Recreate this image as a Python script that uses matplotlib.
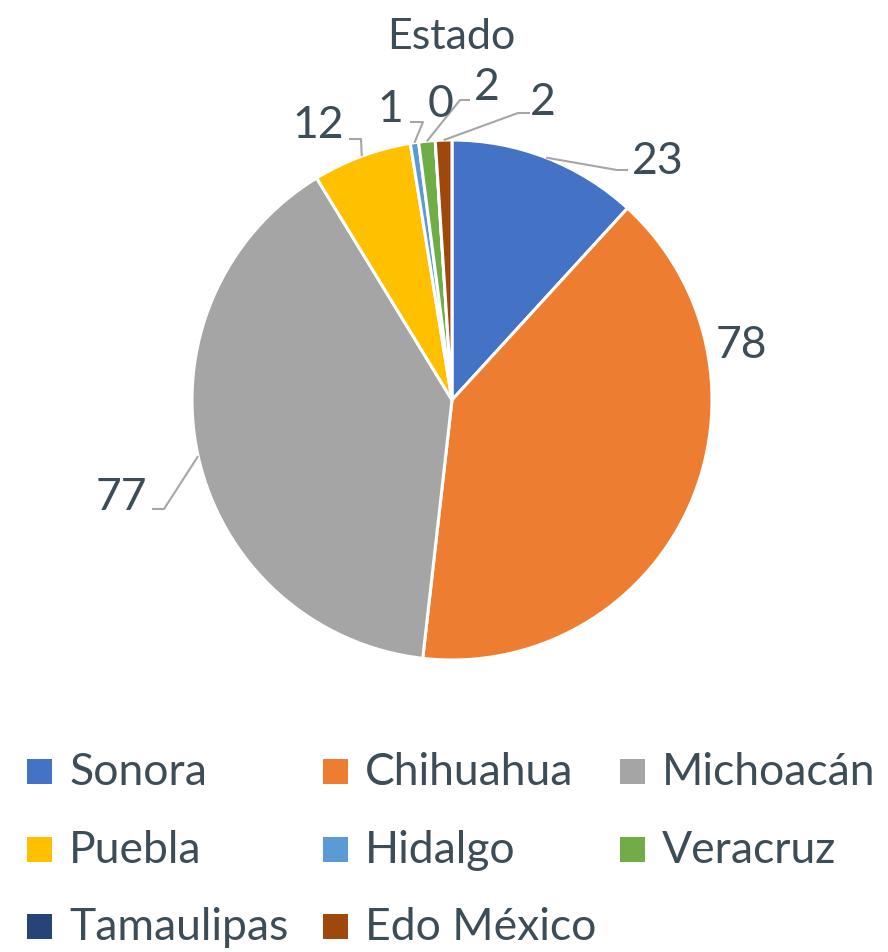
import numpy as np
import matplotlib.pyplot as plt
from matplotlib.patches import Rectangle

# data
estados = ['Sonora', 'Chihuahua', 'Michoacán', 'Puebla', 'Hidalgo',
           'Veracruz', 'Tamaulipas', 'Edo México']
valores = [23, 78, 77, 12, 1, 2, 0, 2]
colores = ['#4472C4', '#ED7D31', '#A5A5A5', '#FFC000', '#5B9BD5',
           '#70AD47', '#264478', '#9E480E']

W, H = 888, 952
TXT = '#3D4D58'
LINE = '#A6A6A6'
plt.rcParams['font.family'] = ['Lato', 'DejaVu Sans']

fig = plt.figure(figsize=(W / 100, H / 100), dpi=100)
ax = fig.add_axes([0, 0, 1, 1])


def Y(y):
    # pixel row (top-down) -> data y
    return H - y


cx, cy, R = 452, 400, 260
wedges, _ = ax.pie(valores, colors=colores, startangle=90, counterclock=False,
                   center=(cx, Y(cy)), radius=R, frame=True,
                   wedgeprops=dict(edgecolor='white', linewidth=2.2))
ax.set_xlim(0, W)
ax.set_ylim(0, H)
ax.set_aspect('equal')
ax.axis('off')


def rim(i):
    w = wedges[i]
    a = np.deg2rad((w.theta1 + w.theta2) / 2)
    return cx + R * np.cos(a), Y(cy) + R * np.sin(a)


# label text position (x, baseline row) and leader elbow (start, bend) or None
etiquetas = {
    0: ((658, 174), ((628, 170), (617, 170))),
    1: ((741, 358), None),
    2: ((121, 510), ((152, 509), (164, 509))),
    3: ((318, 138), ((349, 139), (361, 139))),
    4: ((390, 122), ((410, 122), (423, 122))),
    5: ((487, 100), ((470, 100), (460, 100))),
    6: ((441, 117), None),
    7: ((543, 115), ((530, 113), (518, 113))),
}

for i, ((tx, ty), lead) in etiquetas.items():
    ax.text(tx, Y(ty), str(valores[i]), ha='center', va='baseline',
            fontsize=32, color=TXT)
    if lead is not None:
        (x0, y0), (x1, y1) = lead
        rx, ry = rim(i)
        ax.plot([x0, x1, rx], [Y(y0), Y(y1), ry], color=LINE, lw=1.5,
                solid_capstyle='butt', zorder=3)

ax.text(451, Y(49), 'Estado', ha='center', va='baseline', fontsize=31,
        color=TXT)

# legend
col_x = [27, 323, 620]
row_y = [785, 863, 940]
for k, (nombre, c) in enumerate(zip(estados, colores)):
    x = col_x[k % 3]
    yb = row_y[k // 3]
    ax.add_patch(Rectangle((x, Y(yb) + 1), 25, 25, facecolor=c,
                           edgecolor='none'))
    ax.text(x + 42, Y(yb), nombre, ha='left', va='baseline', fontsize=32,
            color=TXT)

fig.savefig('out.png', dpi=100)
